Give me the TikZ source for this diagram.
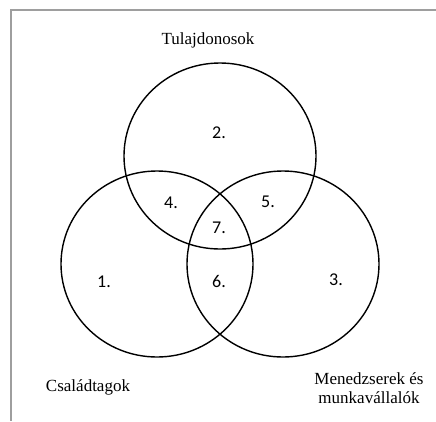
\documentclass[tikz,border=0pt]{standalone}
\usepackage{fontspec}
\setmainfont{Liberation Serif}
\newfontfamily\numfont{Carlito}
\usetikzlibrary{shapes.geometric}
\begin{document}
\begin{tikzpicture}[x=1pt,y=-1pt,
  setring/.style={draw=black,line width=1.4pt,ellipse,minimum width=192pt,minimum height=186pt,inner sep=0pt},
  grouplabel/.style={font=\fontsize{17}{19}\selectfont,inner sep=0pt,align=center},
  regionnum/.style={font=\numfont\fontsize{18}{20}\selectfont,inner sep=0pt}]
  \useasboundingbox (0,0) rectangle (436,421);
  % frame
  \draw[color=black!38,line width=2pt] (436,10) -- (11,10) -- (11,421);
  % three overlapping sets
  \node[setring] (owners) at (220,156) {};
  \node[setring] (family) at (157,264) {};
  \node[setring] (staff) at (283,264) {};
  % set names
  \node[grouplabel] (ownersname) at (208,40) {Tulajdonosok};
  \node[grouplabel] (familyname) at (88,387) {Családtagok};
  \node[grouplabel] (staffname) at (369,388) {Menedzserek és\\munkavállalók};
  % region numbers
  \node[regionnum] (r1) at (104,282) {1.};
  \node[regionnum] (r2) at (219,133) {2.};
  \node[regionnum] (r3) at (336,280) {3.};
  \node[regionnum] (r4) at (171,203) {4.};
  \node[regionnum] (r5) at (268,202) {5.};
  \node[regionnum] (r6) at (219,281) {6.};
  \node[regionnum] (r7) at (219,228) {7.};
\end{tikzpicture}
\end{document}
